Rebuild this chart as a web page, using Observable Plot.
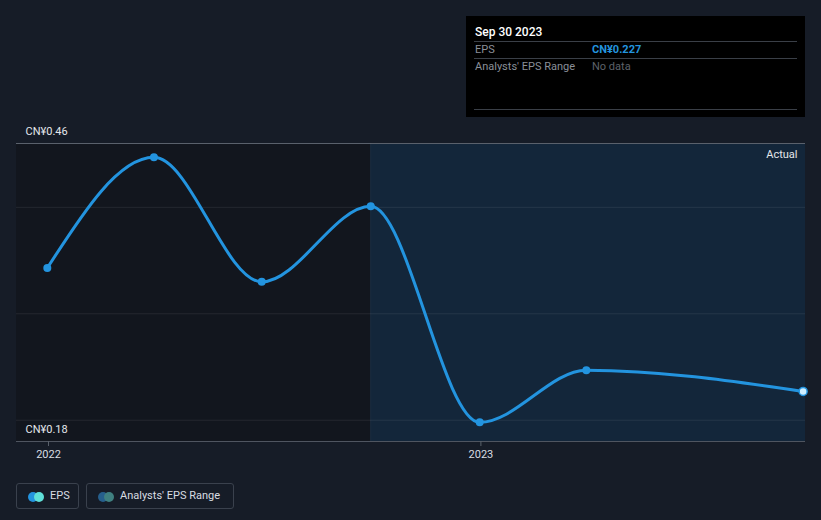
<!DOCTYPE html>
<html>
<head>
<meta charset="utf-8">
<script src="https://cdn.jsdelivr.net/npm/d3@7"></script>
<script src="https://cdn.jsdelivr.net/npm/@observablehq/plot@0.6"></script>
<style>
  html, body { margin: 0; padding: 0; background: #161c27; }
  body { font-family: Roboto, "Noto Sans", sans-serif; }
  #wrap { position: relative; width: 821px; height: 520px; background: #161c27; overflow: hidden; }
  #chart { position: absolute; left: 0; top: 0; }
  .tip { position: absolute; left: 466px; top: 16px; width: 339px; height: 101px; background: #000; }
  .tip .t { position: absolute; font-size: 11px; line-height: 14px; white-space: nowrap; }
  .tip .hr { position: absolute; left: 8px; right: 8px; height: 1px; background: #3a3f47; }
  .leg { position: absolute; top: 483px; height: 24px; border: 1px solid #3a414d; border-radius: 3px; box-sizing: content-box; }
  .leg .lab { position: absolute; top: 5px; font-size: 11px; line-height: 14px; color: #d8dce2; white-space: nowrap; }
  .leg .c { position: absolute; top: 8px; width: 10px; height: 10px; border-radius: 50%; }
</style>
</head>
<body>
<div id="wrap">
  <div id="chart"></div>
  <div class="tip">
    <div class="t" style="left:9px;top:9px;font-size:12px;color:#ffffff;font-weight:500;">Sep 30 2023</div>
    <div class="hr" style="top:25px;"></div>
    <div class="t" style="left:9px;top:27px;color:#8a8f98;">EPS</div>
    <div class="t" style="left:126px;top:27px;color:#2394df;font-weight:700;">CN¥0.227</div>
    <div class="hr" style="top:42px;"></div>
    <div class="t" style="left:9px;top:44px;color:#8a8f98;">Analysts' EPS Range</div>
    <div class="t" style="left:126px;top:44px;color:#5d626a;">No data</div>
    <div class="hr" style="top:93px;"></div>
  </div>
  <div class="leg" style="left:16px;width:61px;">
    <div class="c" style="left:11px;background:#2394df;"></div>
    <div class="c" style="left:17px;background:#5fe0d8;"></div>
    <div class="lab" style="left:33px;">EPS</div>
  </div>
  <div class="leg" style="left:86px;width:146px;">
    <div class="c" style="left:11px;background:#265f8c;"></div>
    <div class="c" style="left:17px;background:#3f8080;"></div>
    <div class="lab" style="left:33px;">Analysts' EPS Range</div>
  </div>
</div>
<script>
// ---- data ----
const epsDates  = ["2021-12-31", "2022-03-31", "2022-06-30", "2022-09-30", "2022-12-31", "2023-03-31", "2023-09-30"];
const epsValues = [0.343, 0.447, 0.330, 0.401, 0.198, 0.247, 0.227];
const yLabelValues = [0.46, 0.18];
const yLabelTexts  = ["CN¥0.46", "CN¥0.18"];
const gridValues = [0.2, 0.3, 0.4];
const xTickDates = ["2022-01-01", "2023-01-01"];
const xTickLabels = ["2022", "2023"];
const pastStart = "2021-12-05";
const actualStart = "2022-09-30";
const domainEnd = "2023-10-02";

const eps = epsDates.map((d, i) => ({date: new Date(d), value: epsValues[i]}));
const last = eps[eps.length - 1];
const yLabels = yLabelValues.map((v, i) => ({v, label: yLabelTexts[i]}));
const xTicks = xTickDates.map(d => new Date(d));
const x0 = new Date(pastStart), xA = new Date(actualStart), x1 = new Date(domainEnd);

const chart = Plot.plot({
  width: 821,
  height: 470,
  marginTop: 143,
  marginBottom: 29,
  marginLeft: 16,
  marginRight: 16,
  style: {background: "transparent", color: "#d8dce2", fontFamily: "Roboto, 'Noto Sans', sans-serif", fontSize: "11px"},
  x: {type: "utc", domain: [x0, x1], axis: null},
  y: {domain: [0.18, 0.46], axis: null},
  marks: [
    Plot.rect([{a: x0, b: xA}], {x1: "a", x2: "b", y1: 0.18, y2: 0.46, fill: "#12161e"}),
    Plot.rect([{a: xA, b: x1}], {x1: "a", x2: "b", y1: 0.18, y2: 0.46, fill: "#13263a"}),
    Plot.ruleY(gridValues, {stroke: "#ffffff", strokeOpacity: 0.08, strokeWidth: 1}),
    Plot.ruleY([0.46], {stroke: "#5a616c", strokeWidth: 1}),
    Plot.ruleY([0.18], {stroke: "#4f5560", strokeWidth: 1}),
    Plot.ruleX([xA], {y1: 0.18, y2: 0.46, stroke: "#ffffff", strokeOpacity: 0.04}),
    Plot.axisX({ticks: xTicks, tickFormat: (d, i) => xTickLabels[i], tickSize: 5, tickPadding: 4, stroke: "#5a616c", color: "#d8dce2", fontSize: 11}),
    Plot.text(yLabels, {frameAnchor: "left", y: "v", text: "label", dx: 9, dy: -12, textAnchor: "start", fill: "#e4e7eb", fontSize: 11}),
    Plot.text(["Actual"], {frameAnchor: "top-right", dx: -8, dy: 7, text: d => d, fill: "#e4e7eb", fontSize: 11}),
    Plot.line(eps, {x: "date", y: "value", curve: "monotone-x", stroke: "#2394df", strokeWidth: 3}),
    Plot.dot(eps.slice(0, -1), {x: "date", y: "value", r: 4, fill: "#2394df"}),
    Plot.dot([last], {x: "date", y: "value", r: 4, fill: "#cfeeff", stroke: "#2394df", strokeWidth: 1.5})
  ]
});
document.getElementById("chart").appendChild(chart);
</script>
</body>
</html>
